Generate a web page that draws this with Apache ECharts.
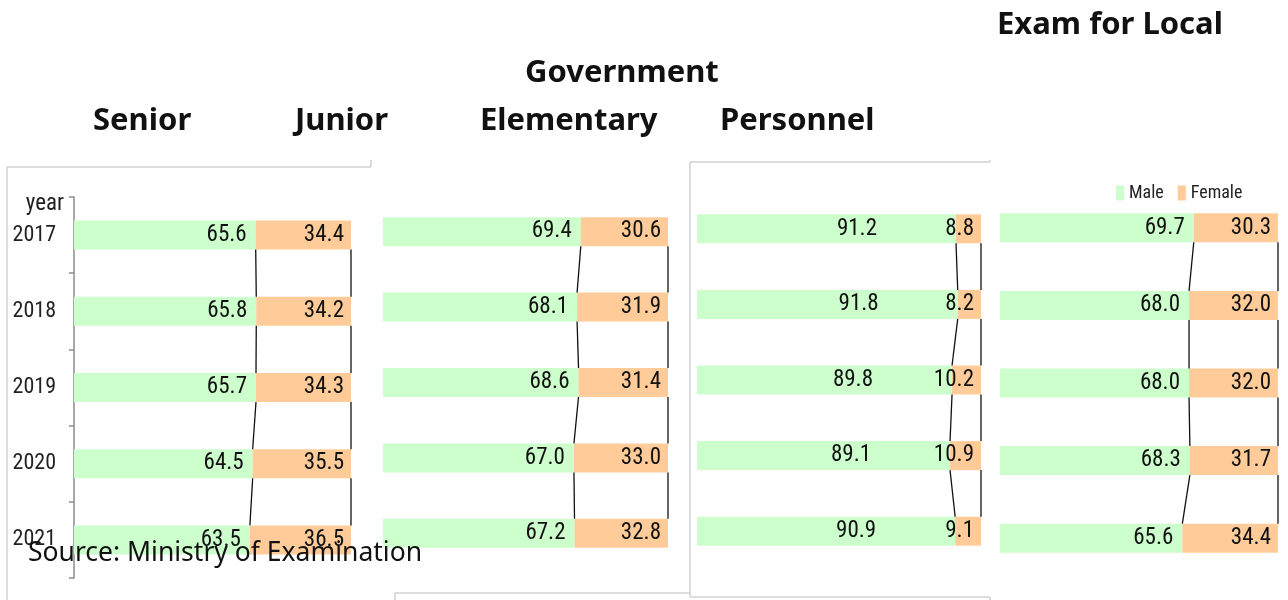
<!DOCTYPE html>
<html>
<head>
<meta charset="utf-8">
<script src="https://cdn.jsdelivr.net/npm/echarts@6/dist/echarts.min.js"></script>
<style>
  html, body { margin: 0; padding: 0; background: #fff; }
  #main { width: 1288px; height: 600px; }
</style>
</head>
<body>
<div id="main"></div>
<script>
var years = ['2017', '2018', '2019', '2020', '2021'];

var seniorMale = [65.6, 65.8, 65.7, 64.5, 63.5];
var seniorFemale = [34.4, 34.2, 34.3, 35.5, 36.5];
var juniorMale = [69.4, 68.1, 68.6, 67.0, 67.2];
var juniorFemale = [30.6, 31.9, 31.4, 33.0, 32.8];
var personnelMale = [91.2, 91.8, 89.8, 89.1, 90.9];
var personnelFemale = [8.8, 8.2, 10.2, 10.9, 9.1];
var localMale = [69.7, 68.0, 68.0, 68.3, 65.6];
var localFemale = [30.3, 32.0, 32.0, 31.7, 34.4];

var titles = ['Exam for Local', 'Government', 'Senior', 'Junior', 'Elementary', 'Personnel'];
var sourceText = 'Source: Ministry of Examination';

var narrow = '"Roboto Condensed", "DejaVu Sans Condensed", sans-serif';
var GREEN = '#ccffcc';
var PEACH = '#ffcc99';
var BAR_W = 29;

var panels = [
    { male: seniorMale, female: seniorFemale, grid: { left: 74, top: 197, width: 277, height: 381 }, maleOffset: 0 },
    { male: juniorMale, female: juniorFemale, grid: { left: 383, top: 194, width: 285, height: 377 }, maleOffset: 0 },
    { male: personnelMale, female: personnelFemale, grid: { left: 697, top: 191, width: 284, height: 378 }, maleOffset: -70 },
    { male: localMale, female: localFemale, grid: { left: 1000, top: 189, width: 278, height: 388 }, maleOffset: 0 }
];

// connector lines between bars (like excel series lines)
function renderLinks(params, api) {
    var i = api.value(2);
    var a = api.coord([api.value(0), i]);
    var b = api.coord([api.value(1), i + 1]);
    var r1 = api.coord([100, i]);
    var r2 = api.coord([100, i + 1]);
    var h = BAR_W / 2;
    var st = { stroke: '#111', lineWidth: 1.3 };
    return {
        type: 'group',
        children: [
            { type: 'line', shape: { x1: a[0], y1: a[1] + h, x2: b[0], y2: b[1] - h }, style: st },
            { type: 'line', shape: { x1: r1[0], y1: r1[1] + h, x2: r2[0], y2: r2[1] - h }, style: st }
        ]
    };
}

function fmt(p) {
    return p.value.toFixed(1);
}

var grids = [], xAxes = [], yAxes = [], series = [];

panels.forEach(function (p, k) {
    grids.push(p.grid);
    xAxes.push({ type: 'value', gridIndex: k, min: 0, max: 100, show: false });
    yAxes.push({
        type: 'category',
        gridIndex: k,
        data: years,
        inverse: true,
        show: k === 0,
        offset: 2,
        name: k === 0 ? 'year' : '',
        nameLocation: 'start',
        nameGap: -7,
        nameTextStyle: { fontFamily: narrow, fontSize: 23, color: '#222', align: 'right', verticalAlign: 'middle', padding: [0, 10, 0, 0] },
        axisLine: { show: true, lineStyle: { color: '#8c8c8c', width: 1.5 } },
        axisTick: { show: true, length: 5, lineStyle: { color: '#8c8c8c', width: 1.5 } },
        axisLabel: { fontFamily: narrow, fontSize: 22, color: '#222', margin: 16 },
        splitLine: { show: false }
    });

    series.push({
        name: 'Male',
        type: 'bar',
        stack: 'p' + k,
        xAxisIndex: k,
        yAxisIndex: k,
        barWidth: BAR_W,
        itemStyle: { color: GREEN },
        label: { show: true, position: 'insideRight', distance: 9, offset: [p.maleOffset, 0], formatter: fmt, fontFamily: narrow, fontSize: 23, color: '#111' },
        data: p.male
    });
    series.push({
        name: 'Female',
        type: 'bar',
        stack: 'p' + k,
        xAxisIndex: k,
        yAxisIndex: k,
        barWidth: BAR_W,
        itemStyle: { color: PEACH },
        label: { show: true, position: 'insideRight', distance: 7, formatter: fmt, fontFamily: narrow, fontSize: 23, color: '#111' },
        data: p.female
    });

    var links = [];
    for (var i = 0; i < p.male.length - 1; i++) {
        links.push([p.male[i], p.male[i + 1], i]);
    }
    series.push({
        type: 'custom',
        xAxisIndex: k,
        yAxisIndex: k,
        renderItem: renderLinks,
        encode: { x: [0, 1], y: 2 },
        z: 5,
        silent: true,
        data: links
    });
});

var titleStyle = { fontFamily: '"Noto Sans", sans-serif', fontSize: 31, fontWeight: 'bold', fill: '#111', verticalAlign: 'middle' };
var titlePos = [[997, 25], [525, 73], [93, 121], [295, 121], [480, 121], [720, 121]];

var graphics = titles.map(function (t, i) {
    return { type: 'text', x: titlePos[i][0], y: titlePos[i][1], style: Object.assign({ text: t }, titleStyle) };
});

// panel frames (light grey)
var frame = { stroke: '#d0d0d0', lineWidth: 1.5 };
[
    [7, 167, 371, 167], [371, 160, 371, 167], [7, 167, 7, 600],
    [395, 593, 690, 593], [395, 593, 395, 600],
    [690, 162, 990, 162], [990, 160, 990, 162], [690, 162, 690, 597], [690, 597, 990, 597], [990, 597, 990, 600]
].forEach(function (l) {
    graphics.push({ type: 'line', shape: { x1: l[0], y1: l[1], x2: l[2], y2: l[3] }, style: frame, z: 0 });
});

graphics.push({
    type: 'text', x: 28, y: 553, z: 100,
    style: { text: sourceText, fontFamily: '"Noto Sans", sans-serif', fontSize: 26.5, fill: '#111', verticalAlign: 'middle' }
});

var chart = echarts.init(document.getElementById('main'));
chart.setOption({
    animation: false,
    backgroundColor: '#fff',
    legend: {
        data: ['Male', 'Female'],
        left: 1111,
        top: 179,
        icon: 'rect',
        itemWidth: 8,
        itemHeight: 15,
        itemGap: 14,
        textStyle: { fontFamily: narrow, fontSize: 18, color: '#222' }
    },
    grid: grids,
    xAxis: xAxes,
    yAxis: yAxes,
    series: series,
    graphic: graphics
});
</script>
</body>
</html>
